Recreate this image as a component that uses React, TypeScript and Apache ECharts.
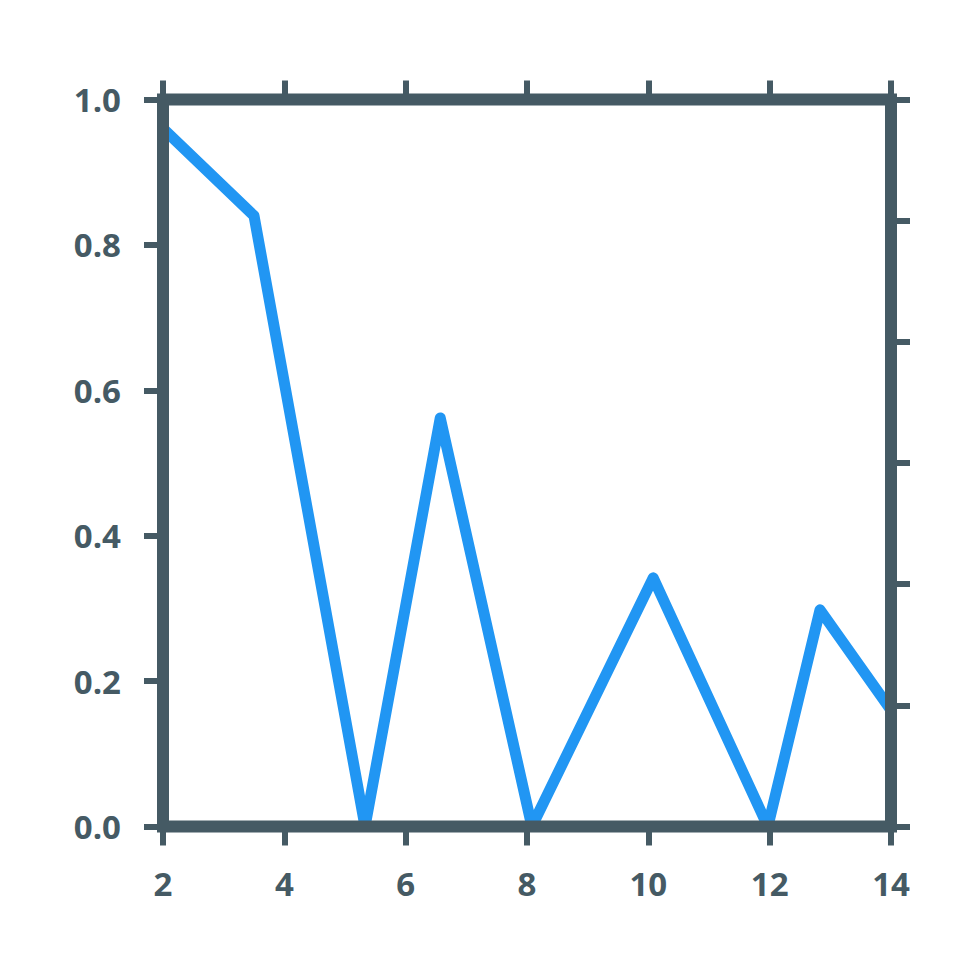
import React, { useEffect, useRef } from "react";
import * as echarts from "echarts";

const xValues = [2, 3.5, 5.33, 6.57, 8.08, 10.08, 11.97, 12.83, 14];
const yValues = [0.96, 0.84, 0.0, 0.562, 0.0, 0.342, 0.0, 0.298, 0.16];
const xTicks = { min: 2, max: 14, interval: 2 };
const yTicks = { min: 0, max: 1, interval: 0.2 };
const rightTicks = { min: 0, max: 6, interval: 1 };

const FRAME = "#455A64";
const LINE = "#2196F3";

export default function App() {
  const ref = useRef<HTMLDivElement>(null);
  useEffect(() => {
    if (!ref.current) return;
    const chart = echarts.init(ref.current, undefined, { renderer: "svg" });
    const tick = { show: true, inside: false, length: 19, lineStyle: { color: FRAME, width: 6 } };
    const noLine = { show: false, onZero: false };
    const label = {
      color: FRAME,
      fontSize: 33,
      fontWeight: "bold" as const,
      fontFamily: "Open Sans",
    };
    chart.setOption({
      animation: false,
      backgroundColor: "#ffffff",
      grid: {
        show: true,
        left: 163,
        right: 89,
        top: 99.5,
        bottom: 153.5,
        borderWidth: 12,
        borderColor: FRAME,
        backgroundColor: "transparent",
        z: 10,
      },
      xAxis: [
        {
          type: "value",
          position: "bottom",
          ...xTicks,
          axisLine: noLine,
          axisTick: tick,
          splitLine: { show: false },
          axisLabel: { ...label, margin: 40 },
        },
        {
          type: "value",
          position: "top",
          ...xTicks,
          axisLine: noLine,
          axisTick: tick,
          splitLine: { show: false },
          axisLabel: { show: false },
        },
      ],
      yAxis: [
        {
          type: "value",
          position: "left",
          ...yTicks,
          axisLine: noLine,
          axisTick: tick,
          splitLine: { show: false },
          axisLabel: { ...label, margin: 42, formatter: (v: number) => v.toFixed(1) },
        },
        {
          type: "value",
          position: "right",
          ...rightTicks,
          axisLine: noLine,
          axisTick: tick,
          splitLine: { show: false },
          axisLabel: { show: false },
        },
      ],
      series: [
        {
          type: "line",
          xAxisIndex: 0,
          yAxisIndex: 0,
          data: xValues.map((x, i) => [x, yValues[i]]),
          showSymbol: false,
          symbol: "none",
          clip: true,
          lineStyle: { color: LINE, width: 11, join: "round", cap: "round" },
          z: 2,
        },
      ],
    });
    return () => chart.dispose();
  }, []);
  return (
    <div
      ref={ref}
      style={{ position: "fixed", left: 0, top: 0, width: 980, height: 980 }}
    />
  );
}
